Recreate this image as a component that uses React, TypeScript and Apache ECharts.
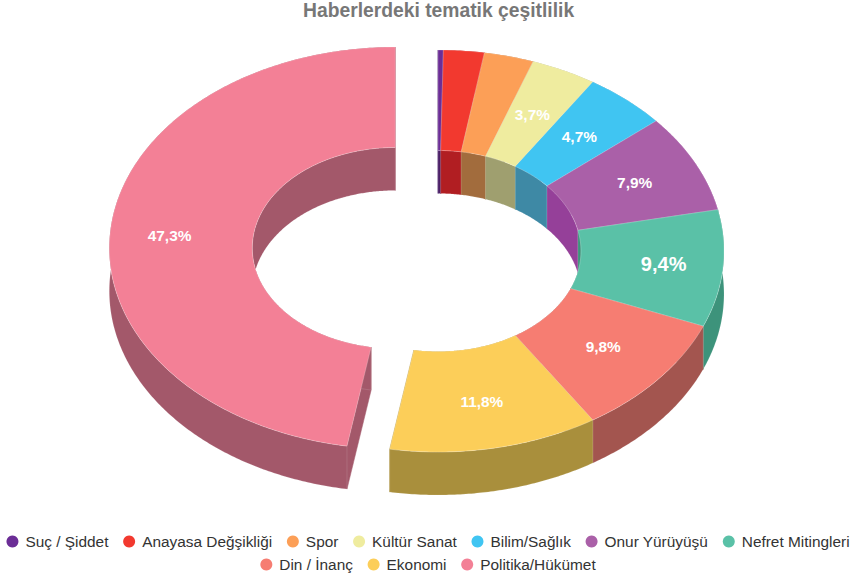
import React, { useEffect, useRef } from "react";
import * as echarts from "echarts";

const categories = ["Suç / Şiddet", "Anayasa Değşikliği", "Spor", "Kültür Sanat", "Bilim/Sağlık", "Onur Yürüyüşü", "Nefret Mitingleri", "Din / İnanç", "Ekonomi", "Politika/Hükümet"];
const values = [0.3, 2.3, 2.8, 3.7, 4.7, 7.9, 9.4, 9.8, 11.8, 47.3];
const topColors = ["#6B2D96", "#F2392F", "#FC9F57", "#EFEC9F", "#40C5F2", "#AA60A8", "#5AC1A7", "#F67D72", "#FCCE59", "#F38096"];
const wallColors = ["#4B2068", "#B11E22", "#A26C3D", "#9F9F6F", "#3E89A5", "#954099", "#3D937B", "#A3554F", "#A98F3C", "#A3586A"];
const sliceShift = [[0, 0], [0, 0], [0, 0], [0, 0], [0, 0], [0, 0], [0, 0], [0, 0], [0, 0], [-42.7, -3]];
const labelNudge = [[0, 0], [0, 0], [0, 0], [0, -1.5], [0, -1], [4, -2], [12, 0], [0, -1], [1, 3], [-12, 0]];
const labelSize = [15.4, 15.4, 15.4, 15.4, 15.4, 15.4, 20, 15.4, 15.4, 15.4];
const firstRowCount = 7;

const CX = 438, CY = 251, R = 286, KY = 201 / 286, HOLE = 0.5, DEPTH = 43;
const FONT = '"Liberation Sans", Arial, sans-serif';
const total = values.reduce((a, b) => a + b, 0);
const starts: number[] = [];
values.reduce((acc, v, i) => { starts[i] = acc; return acc + v; }, 0);

function pt(theta: number, r: number, dx: number, dy: number): number[] {
  return [CX + dx + r * Math.sin(theta), CY + dy - KY * r * Math.cos(theta)];
}
function arc(a0: number, a1: number, r: number, dx: number, dy: number): number[][] {
  const n = Math.max(2, Math.ceil(Math.abs(a1 - a0) / 0.01));
  const out: number[][] = [];
  for (let i = 0; i <= n; i++) out.push(pt(a0 + ((a1 - a0) * i) / n, r, dx, dy));
  return out;
}

function makeRender(index: number) {
  return (_params: any, api: any) => {
    const v = api.value(0) as number;
    const a0 = (starts[index] / total) * Math.PI * 2;
    const a1 = ((starts[index] + v) / total) * Math.PI * 2;
    const [sx, sy] = sliceShift[index];
    const rIn = R * HOLE;
    const wall = wallColors[index];
    const edge = { stroke: "rgba(255,255,255,0.25)", lineWidth: 0.5 };
    const face = (points: number[][], fill: string, z2: number, st: any = { stroke: fill, lineWidth: 0.5 }) => ({
      type: "polygon", z2, shape: { points }, style: { fill, ...st },
    });
    const band = (r: number) => [...arc(a0, a1, r, sx, sy), ...arc(a1, a0, r, sx, sy + DEPTH)];
    const cut = (a: number) => [pt(a, rIn, sx, sy), pt(a, R, sx, sy), pt(a, R, sx, sy + DEPTH), pt(a, rIn, sx, sy + DEPTH)];
    const children: any[] = [
      face(cut(a0), wall, 1),
      face(cut(a1), wall, 1),
      face(band(rIn), wall, 2, edge),
      face(band(R), wall, 3, edge),
      face([...arc(a0, a1, R, sx, sy), ...arc(a1, a0, rIn, sx, sy)], topColors[index], 4, { stroke: "rgba(255,255,255,0.35)", lineWidth: 0.6 }),
    ];
    if (v > 3) {
      const p = pt((a0 + a1) / 2, R * 0.75, sx + labelNudge[index][0], sy + labelNudge[index][1]);
      children.push({
        type: "text", z2: 5,
        style: {
          text: v.toFixed(1).replace(".", ",") + "%", x: p[0], y: p[1],
          textAlign: "center", textVerticalAlign: "middle",
          fill: "#FFFFFF", fontFamily: FONT, fontWeight: "bold", fontSize: labelSize[index],
        },
      });
    }
    return { type: "group", children };
  };
}

const legendBase = {
  left: "center", icon: "circle", itemWidth: 16, itemHeight: 12, itemGap: 14.7,
  textStyle: { color: "#333333", fontFamily: FONT, fontSize: 15.4 },
};

export default function App() {
  const ref = useRef<HTMLDivElement>(null);
  useEffect(() => {
    const chart = echarts.init(ref.current!, null, { renderer: "svg" });
    chart.setOption({
      animation: false,
      backgroundColor: "#FFFFFF",
      title: {
        text: "Haberlerdeki tematik çeşitlilik", left: 303, top: 1, padding: 0,
        textStyle: { color: "#777777", fontFamily: FONT, fontSize: 19.3, fontWeight: "bold" },
      },
      legend: [
        { ...legendBase, top: 529, data: categories.slice(0, firstRowCount) },
        { ...legendBase, top: 552, data: categories.slice(firstRowCount) },
      ],
      series: categories.map((name, i) => ({
        type: "custom", name, coordinateSystem: "none",
        itemStyle: { color: topColors[i] },
        data: [[values[i]]],
        renderItem: makeRender(i),
      })),
    });
    return () => chart.dispose();
  }, []);
  return <div ref={ref} style={{ position: "absolute", left: 0, top: 0, width: 856, height: 577 }} />;
}
